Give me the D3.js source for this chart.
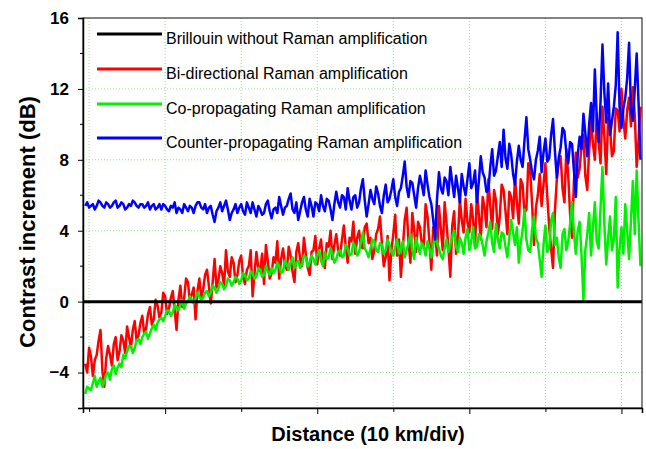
<!DOCTYPE html>
<html><head><meta charset="utf-8">
<script src="https://cdn.jsdelivr.net/npm/d3@7"></script>
<style>body{margin:0;background:#fff}svg{display:block;font-family:"Liberation Sans",Arial,sans-serif}</style>
</head><body><svg id="c" width="646" height="449"></svg>
<script>
// Distance in divisions (10 km/div), sampled every 0.025 div starting at -0.05
const startDiv = -0.05, stepDiv = 0.025;
const xTicks = [0,1,2,3,4,5,6,7];
const yMajorTicks = [-4,0,4,8,12,16];
const yMinorTicks = [-2,2,6,10,14];
const yGrid = [-4,4,8,12];
const seriesNames = ["Brillouin without Raman amplification","Bi-directional Raman amplification","Co-propagating Raman amplification","Counter-propagating Raman amplification"];
const seriesColors = ["#000000","#ff0000","#00f000","#0000ff"];

const brillouin = [0,0];

const bidirectional = [
-3.5,-4.0,-2.6,-3.1,-4.2,-3.3,-3.0,-2.2,-1.6,-3.9,-4.8,-3.2,-2.5,-3.0,-3.6,-2.4,-2.0,-3.3,-2.8,-1.9,
-2.2,-2.9,-1.4,-2.0,-2.6,-1.6,-1.1,-2.2,-1.9,-1.2,-0.8,-1.8,-1.5,-0.7,-0.3,-1.3,-1.0,0.1,-0.2,-0.9,
-0.6,0.5,0.3,-0.7,-0.4,0.2,0.6,-0.5,-1.6,0.1,0.9,-0.3,0.2,1.3,1.1,0.0,0.4,0.8,-1.0,0.6,
1.3,0.2,0.7,1.5,1.8,0.9,-0.1,1.1,2.4,0.8,1.2,2.0,1.6,0.9,2.9,1.7,1.4,2.5,2.2,1.1,
1.5,2.3,2.6,1.4,1.0,1.8,2.0,2.9,0.3,1.6,2.8,1.9,1.7,2.7,1.0,3.2,2.3,1.3,1.6,2.5,
2.2,3.4,1.3,2.4,3.0,2.1,1.8,3.1,2.6,1.7,1.1,2.8,3.3,2.4,2.0,3.6,2.7,1.9,1.5,2.8,
2.9,3.7,2.1,3.0,3.5,2.3,1.9,3.3,3.1,4.0,2.4,3.2,3.8,2.9,2.6,3.5,4.3,3.1,2.2,3.6,
3.4,4.5,2.7,3.6,4.0,3.1,3.0,4.2,4.4,3.3,3.6,2.4,2.9,3.8,4.1,4.8,3.3,2.0,2.5,3.7,
1.2,2.9,3.8,4.9,2.6,3.5,1.4,3.0,4.6,5.3,3.4,2.2,5.0,4.0,2.8,4.5,4.2,3.3,3.1,5.5,
4.8,3.4,1.8,4.2,3.9,2.6,5.4,4.1,2.9,5.6,4.4,3.0,1.4,4.3,5.1,2.7,3.6,5.8,4.6,3.9,
5.8,4.5,3.9,5.5,4.6,3.1,6.2,4.9,3.5,5.9,5.3,4.2,6.9,5.4,4.1,6.3,5.7,3.8,4.8,6.6,
6.3,5.1,3.8,6.2,5.9,4.7,7.0,5.6,4.4,6.9,6.6,5.0,5.2,7.8,7.4,5.5,3.2,5.3,6.0,7.2,
5.4,6.6,7.8,5.9,4.2,3.0,1.9,5.1,6.9,7.9,8.2,6.4,5.6,8.6,7.1,4.9,3.6,6.8,8.4,7.0,
7.5,8.8,9.4,7.1,6.3,8.5,10.2,8.9,8.0,10.6,9.0,7.8,11.0,9.3,7.2,10.4,9.8,8.2,8.5,10.9,
10.8,9.6,12.0,10.3,9.2,10.8,11.5,9.9,12.1,10.5,7.6,9.1,11.0
];

const coPropagating = [
-5.2,-4.8,-4.9,-5.0,-4.6,-4.2,-4.8,-4.5,-4.3,-4.8,-4.5,-4.1,-4.0,-4.4,-3.8,-3.6,-4.1,-3.7,-3.5,-3.7,
-3.0,-3.2,-2.8,-2.5,-2.5,-2.9,-2.6,-2.2,-2.1,-2.4,-2.0,-1.8,-1.7,-2.1,-1.8,-1.5,-1.3,-1.6,-1.2,-1.0,
-0.9,-1.1,-0.8,-0.5,-0.5,-0.8,-0.6,-0.2,-0.3,-0.5,-0.2,0.1,-0.4,-0.1,0.0,0.3,0.1,-0.1,0.2,0.5,
0.3,0.1,0.2,0.5,0.6,0.3,0.5,0.9,0.8,0.5,0.7,1.1,1.0,0.7,0.9,1.3,1.2,0.9,1.1,1.4,
1.3,1.0,1.2,1.6,1.5,1.2,1.3,1.7,1.6,1.3,1.4,1.9,1.8,1.4,1.5,2.0,1.7,1.5,1.9,1.6,
1.8,2.2,2.0,1.6,1.7,2.3,2.1,1.8,2.2,2.5,1.9,2.2,2.3,1.9,2.1,2.6,2.5,2.0,2.2,2.6,
2.4,2.1,2.6,2.9,2.3,2.0,2.8,2.4,2.5,3.0,2.7,2.2,2.4,2.8,2.9,2.5,2.6,3.2,3.0,2.6,
2.7,3.3,3.1,2.6,2.8,3.4,3.9,3.0,2.8,2.5,3.0,3.5,3.4,2.9,2.8,3.3,3.2,2.7,2.9,3.5,
3.2,2.8,2.6,3.1,3.5,2.7,3.0,3.4,2.5,2.9,3.3,3.8,2.9,2.4,3.6,3.1,2.7,3.3,3.1,2.6,
3.4,3.0,2.5,3.2,3.8,3.3,3.0,2.6,2.4,3.0,3.5,2.8,3.2,3.7,4.0,3.1,2.8,3.6,3.3,2.7,
3.6,4.1,2.9,3.4,4.2,3.0,3.1,3.8,3.7,3.2,2.6,3.4,3.9,4.5,3.3,2.8,4.4,3.5,3.0,3.9,
3.8,3.1,2.5,3.6,4.6,3.9,3.2,4.2,2.2,3.3,4.0,5.2,3.5,2.9,2.8,4.1,4.8,3.6,3.3,2.4,
1.4,3.2,4.3,2.8,3.0,4.6,5.0,3.2,3.6,2.5,1.9,3.8,4.1,2.9,3.4,4.4,5.6,3.9,2.7,4.0,
4.5,2.6,0.1,2.9,3.8,5.0,2.6,4.2,5.6,3.4,3.0,5.3,7.6,4.4,2.1,3.6,4.8,2.9,3.5,5.9,
0.8,3.0,4.2,2.7,5.5,4.0,2.4,4.6,6.8,3.8,7.4,4.5,2.0
];

const counterPropagating = [
5.4,5.6,5.3,5.4,5.5,5.2,5.4,5.7,5.6,5.4,5.3,5.6,5.5,5.3,5.4,5.6,5.7,5.3,5.4,5.6,
5.5,5.2,5.3,5.5,5.4,5.7,5.6,5.4,5.3,5.5,5.5,5.3,5.4,5.6,5.2,5.4,5.5,5.2,5.3,5.5,
5.2,5.5,5.4,5.2,5.1,5.4,5.3,5.6,5.0,5.3,5.2,5.0,5.5,5.3,5.1,5.4,5.3,5.0,5.4,5.6,
5.6,5.3,5.2,5.5,5.0,5.3,5.4,4.9,4.5,5.1,5.3,5.6,5.1,5.4,5.7,5.2,4.6,5.0,5.2,5.5,
5.0,5.3,5.5,5.1,4.9,5.6,5.3,5.0,5.6,5.2,4.8,5.4,5.2,4.9,5.0,5.5,5.7,5.1,4.7,5.2,
5.3,5.0,5.9,5.4,4.9,5.3,5.4,5.8,6.1,5.2,5.0,5.6,4.6,5.1,5.6,5.9,5.2,4.8,5.8,5.4,
4.8,5.6,5.5,5.1,6.0,5.4,5.1,5.8,5.7,5.2,4.6,5.5,6.2,5.6,5.3,6.0,5.9,5.2,6.4,5.7,
5.2,5.9,6.0,5.3,5.6,6.4,6.9,5.7,4.8,5.5,6.3,5.8,5.5,6.5,6.1,5.4,5.0,6.0,6.6,5.6,
5.8,6.3,6.9,5.9,5.4,6.2,6.4,7.1,7.9,6.5,5.9,6.8,6.7,6.0,5.3,6.4,7.1,6.6,6.0,7.4,
6.6,5.9,5.5,4.6,3.5,5.8,7.3,6.4,6.1,7.0,6.8,6.0,7.6,6.7,5.9,7.1,6.4,5.6,7.2,6.5,
6.0,6.9,7.8,6.4,6.7,7.4,5.6,6.8,8.2,7.3,7.0,6.2,6.3,7.6,8.6,7.1,7.4,8.2,9.0,7.6,
9.7,8.1,7.5,8.9,8.3,7.2,6.6,7.9,8.8,8.0,7.6,9.1,10.4,8.6,8.0,7.3,6.9,8.0,8.5,9.3,
7.3,8.4,9.2,7.9,8.1,9.4,10.3,8.5,7.0,8.1,8.7,9.8,9.6,8.4,7.8,9.0,8.9,7.4,5.9,8.3,
9.3,8.6,10.6,9.5,8.2,10.0,11.2,9.6,13.1,10.4,9.0,11.3,14.5,11.8,10.1,12.3,9.4,10.2,11.0,12.2,
15.2,11.0,9.8,10.9,11.5,12.6,14.6,10.8,10.2,12.0,14.0,11.2,8.0
];

const svg = d3.select("#c");
const x = d3.scaleLinear().domain([-0.08, 7.27]).range([83, 642]);
const y = d3.scaleLinear().domain([-6, 16]).range([408, 18]);
const gridColor = "#88e888";

// grid
svg.append("g").selectAll("line").data(xTicks).join("line")
  .attr("x1", d => x(d)).attr("x2", d => x(d)).attr("y1", y(16)).attr("y2", y(-6))
  .attr("stroke", gridColor).attr("stroke-width", 1).attr("stroke-dasharray", "1,2");
svg.append("g").selectAll("line").data(yGrid).join("line")
  .attr("x1", x.range()[0]).attr("x2", x.range()[1]).attr("y1", d => y(d)).attr("y2", d => y(d))
  .attr("stroke", gridColor).attr("stroke-width", 1).attr("stroke-dasharray", "1,2");

const toPts = arr => arr.map((v, i) => [startDiv + i * stepDiv, v]);
const line = d3.line().x(d => x(d[0])).y(d => y(d[1]));
const plot = svg.append("g");
[[bidirectional,1],[coPropagating,2],[counterPropagating,3]].forEach(([arr,k]) => {
  plot.append("path").datum(toPts(arr)).attr("d", line)
    .attr("fill","none").attr("stroke", seriesColors[k]).attr("stroke-width", 2.5).attr("stroke-linejoin","round");
});
plot.append("path").datum([[x.domain()[0], brillouin[0]],[x.domain()[1], brillouin[1]]]).attr("d", line)
  .attr("fill","none").attr("stroke", seriesColors[0]).attr("stroke-width", 3);

// frame
svg.append("rect").attr("x", 83).attr("y", 18).attr("width", 559).attr("height", 390)
  .attr("fill","none").attr("stroke","#333").attr("stroke-width",1.2);

// axes
const yAxis = svg.append("g").attr("transform","translate(83,0)")
  .call(d3.axisLeft(y).tickValues(yMajorTicks).tickSize(5).tickPadding(9).tickFormat(d3.format("d")));
yAxis.append("g").selectAll("line").data(yMinorTicks).join("line")
  .attr("x1",0).attr("x2",-3).attr("y1", d=>y(d)).attr("y2", d=>y(d)).attr("stroke","#000");
yAxis.select(".domain").attr("stroke-width",1.5);
yAxis.selectAll("text").attr("font-size",17).attr("font-weight","bold").attr("font-family","Liberation Sans, Arial, sans-serif").attr("fill","#000");

const xAxis = svg.append("g").attr("transform","translate(0,408)")
  .call(d3.axisBottom(x).tickValues(xTicks).tickSize(5).tickFormat(""));
xAxis.selectAll(".tick line").attr("y2", d => d % 2 === 1 ? 6 : 4);
xAxis.select(".domain").attr("stroke-width",1.5);

// axis titles
svg.append("text").attr("transform","translate(27,222) rotate(-90)").attr("text-anchor","middle")
  .attr("dominant-baseline","central").attr("font-size",22).attr("font-weight","bold").text("Contrast increment (dB)");
svg.append("text").attr("x",368).attr("y",441).attr("text-anchor","middle")
  .attr("font-size",20).attr("font-weight","bold").text("Distance (10 km/div)");

// legend
const legY = [34,69,104,138];
const leg = svg.append("g");
seriesNames.forEach((n,i) => {
  leg.append("line").attr("x1",97).attr("x2",162).attr("y1",legY[i]).attr("y2",legY[i])
    .attr("stroke",seriesColors[i]).attr("stroke-width",2.8);
  leg.append("text").attr("x",166).attr("y",legY[i]+4).attr("dominant-baseline","central")
    .attr("font-size",16).text(n);
});
</script></body></html>
